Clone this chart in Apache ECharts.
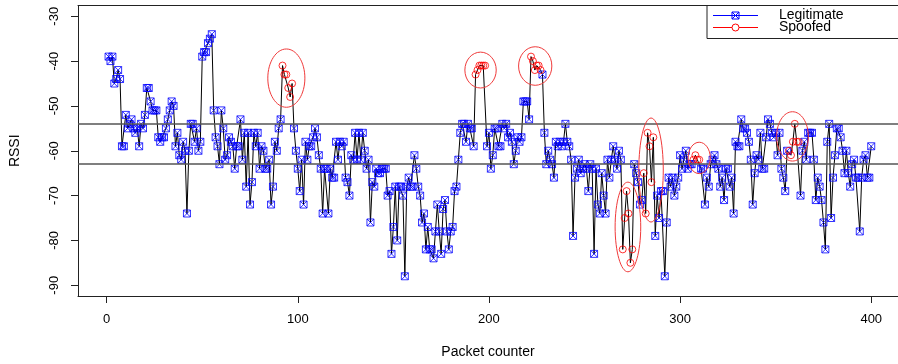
<!DOCTYPE html>
<html>
<head>
<meta charset="utf-8">
<script src="https://cdn.jsdelivr.net/npm/echarts@6.0.0/dist/echarts.min.js"></script>
<style>
  html, body { margin: 0; padding: 0; background: #fff; }
  #chart { width: 898px; height: 364px; }
</style>
</head>
<body>
<div id="chart"></div>
<script>
// RSSI per packet, packet 1..400
const rssi = [
  -39, -40, -39, -45, -44, -42, -44, -59, -59, -52,
  -55, -54, -53, -55, -56, -55, -59, -54, -55, -52,
  -46, -46, -49, -51, -51, -51, -57, -58, -57, -57,
  -55, -53, -51, -49, -50, -59, -56, -61, -62, -58,
  -60, -74, -60, -54, -54, -58, -55, -60, -58, -39,
  -38, -38, -36, -35, -34, -51, -57, -59, -63, -51,
  -55, -62, -61, -57, -58, -59, -64, -59, -59, -53,
  -62, -56, -68, -56, -72, -67, -56, -59, -56, -64,
  -59, -60, -64, -64, -62, -72, -68, -58, -60, -55,
  -53, -41, -43, -43, -46, -48, -45, -55, -60, -64,
  -69, -62, -72, -58, -62, -59, -59, -57, -55, -57,
  -61, -64, -74, -64, -64, -74, -64, -66, -66, -58,
  -62, -58, -59, -58, -66, -67, -70, -61, -62, -56,
  -62, -56, -62, -56, -60, -64, -62, -76, -67, -68,
  -64, -65, -65, -64, -64, -64, -70, -69, -83, -77,
  -68, -80, -68, -68, -70, -88, -68, -66, -68, -68,
  -61, -64, -68, -70, -76, -74, -82, -77, -82, -82,
  -84, -78, -72, -78, -83, -73, -71, -78, -82, -78,
  -77, -69, -68, -62, -56, -54, -54, -58, -54, -55,
  -55, -59, -43, -42, -41, -41, -41, -41, -59, -56,
  -64, -61, -55, -55, -59, -59, -54, -55, -54, -57,
  -56, -58, -63, -60, -57, -58, -57, -49, -49, -49,
  -53, -39, -40, -42, -41, -41, -42, -43, -56, -63,
  -60, -62, -63, -66, -58, -59, -58, -59, -58, -54,
  -58, -59, -62, -79, -66, -64, -62, -65, -64, -63,
  -64, -69, -63, -64, -83, -64, -72, -74, -65, -70,
  -74, -62, -66, -62, -59, -62, -64, -60, -62, -82,
  -75, -69, -74, -85, -82, -63, -65, -67, -72, -71,
  -65, -74, -56, -59, -67, -57, -79, -70, -75, -69,
  -69, -88, -76, -66, -68, -66, -70, -68, -66, -61,
  -64, -62, -60, -64, -63, -63, -62, -61, -62, -62,
  -64, -64, -72, -66, -68, -63, -62, -61, -63, -64,
  -68, -66, -71, -64, -64, -68, -66, -74, -58, -59,
  -59, -53, -55, -55, -56, -58, -62, -72, -65, -61,
  -62, -56, -64, -64, -57, -53, -54, -56, -57, -56,
  -61, -56, -64, -66, -69, -60, -60, -61, -58, -54,
  -58, -58, -70, -60, -58, -62, -56, -56, -56, -62,
  -71, -66, -68, -71, -76, -82, -58, -54, -75, -66,
  -61, -55, -55, -57, -60, -65, -60, -65, -68, -63,
  -62, -66, -66, -78, -66, -62, -61, -66, -66, -59
];

// packets flagged as spoofed
const spoofedPackets = [
  92, 93, 94, 95, 96, 97,
  193, 194, 195, 196, 197, 198,
  222, 223, 224, 225, 226, 227,
  270, 271, 272, 273, 274, 275,
  281, 282, 283, 284, 285, 286,
  307, 308, 309, 310,
  357, 358, 359, 360, 361, 362
];

// threshold lines
const thresholds = [-54, -63];

// highlight ellipses: [packet, rssi, half width (packets), half height (dB)]
const ellipses = [
  [94, -43.8, 9.7, 6.5],
  [195.6, -42, 8.2, 4],
  [224.2, -41.1, 8.7, 4.3],
  [272.7, -77, 6.7, 10],
  [284.8, -64.3, 6.4, 11.6],
  [310, -61.6, 5.8, 3.5],
  [358.8, -56.8, 8.3, 5.5]
];

const xTicks = [0, 100, 200, 300, 400];
const yTicks = [-90, -80, -70, -60, -50, -40, -30];

const allPoints = rssi.map((v, i) => [i + 1, v]);
const spoofSet = new Set(spoofedPackets);
const legitPoints = allPoints.filter(p => !spoofSet.has(p[0]));
const spoofPoints = allPoints.filter(p => spoofSet.has(p[0]));

const BLUE = '#0000ff';
const RED = '#ff0000';
const FONT = '"Liberation Sans", Arial, sans-serif';
const boxSymbol = 'path://M0 0H10V10H0Z M0 0L10 10 M10 0L0 10';

const chart = echarts.init(document.getElementById('chart'), null, { renderer: 'canvas' });

// legend drawn R style
const lgX = 707, lgY = 5.5;
const legendGraphic = [
  {
    type: 'rect',
    shape: { x: lgX, y: lgY, width: 220, height: 33 },
    style: { fill: '#fff', stroke: '#222', lineWidth: 1 },
    z: 100
  },
  {
    type: 'line',
    shape: { x1: 713, y1: 15.5, x2: 758, y2: 15.5 },
    style: { stroke: BLUE, lineWidth: 1 },
    z: 101
  },
  {
    type: 'rect',
    shape: { x: 732, y: 12, width: 7, height: 7 },
    style: { fill: 'none', stroke: BLUE, lineWidth: 1 },
    z: 102
  },
  {
    type: 'line',
    shape: { x1: 732, y1: 12, x2: 739, y2: 19 },
    style: { stroke: BLUE, lineWidth: 1 },
    z: 102
  },
  {
    type: 'line',
    shape: { x1: 739, y1: 12, x2: 732, y2: 19 },
    style: { stroke: BLUE, lineWidth: 1 },
    z: 102
  },
  {
    type: 'line',
    shape: { x1: 713, y1: 27.5, x2: 758, y2: 27.5 },
    style: { stroke: RED, lineWidth: 1 },
    z: 101
  },
  {
    type: 'circle',
    shape: { cx: 735.5, cy: 27.5, r: 3.5 },
    style: { fill: '#fff', stroke: RED, lineWidth: 1 },
    z: 102
  },
  {
    type: 'text',
    x: 779, y: 15.5,
    style: { text: 'Legitimate', font: '14px ' + FONT, fill: '#000', verticalAlign: 'middle' },
    z: 102
  },
  {
    type: 'text',
    x: 779, y: 27.5,
    style: { text: 'Spoofed', font: '14px ' + FONT, fill: '#000', verticalAlign: 'middle' },
    z: 102
  }
];

chart.setOption({
  animation: false,
  backgroundColor: '#fff',
  textStyle: { fontFamily: FONT },
  grid: { left: 72, right: 0, top: 5.5, bottom: 67 },
  xAxis: [
    {
      type: 'value',
      min: -15,
      max: 414,
      name: 'Packet counter',
      nameLocation: 'middle',
      nameGap: 49,
      nameTextStyle: { fontSize: 14, color: '#000', fontFamily: FONT },
      axisLine: { show: true, onZero: false, lineStyle: { color: '#222', width: 1 } },
      axisTick: { show: true, length: 7, lineStyle: { color: '#222' }, customValues: xTicks },
      axisLabel: { fontSize: 13, color: '#000', margin: 17, customValues: xTicks },
      splitLine: { show: false }
    },
    {
      type: 'value',
      position: 'top',
      min: -15,
      max: 414,
      axisLine: { show: true, onZero: false, lineStyle: { color: '#222', width: 1 } },
      axisTick: { show: false },
      axisLabel: { show: false },
      splitLine: { show: false }
    }
  ],
  yAxis: {
    type: 'value',
    min: -92.4,
    max: -27.6,
    name: 'RSSI',
    nameLocation: 'middle',
    nameRotate: 90,
    nameGap: 56,
    nameTextStyle: { fontSize: 14, color: '#000', fontFamily: FONT },
    axisLine: { show: true, onZero: false, lineStyle: { color: '#222', width: 1 } },
    axisTick: { show: true, length: 7, lineStyle: { color: '#222' }, customValues: yTicks },
    axisLabel: { fontSize: 13, color: '#000', rotate: 90, margin: 17, customValues: yTicks },
    splitLine: { show: false }
  },
  series: [
    {
      name: 'trace',
      type: 'line',
      data: allPoints,
      showSymbol: false,
      lineStyle: { color: '#000', width: 1 },
      z: 2,
      markLine: {
        silent: true,
        symbol: ['none', 'none'],
        label: { show: false },
        lineStyle: { color: '#555', width: 1.5, type: 'solid' },
        data: thresholds.map(v => ({ yAxis: v }))
      }
    },
    {
      name: 'Legitimate',
      type: 'scatter',
      data: legitPoints,
      symbol: boxSymbol,
      symbolSize: 7,
      itemStyle: { color: 'rgba(0,0,0,0)', borderColor: BLUE, borderWidth: 1 },
      z: 3
    },
    {
      name: 'Spoofed',
      type: 'scatter',
      data: spoofPoints,
      symbol: 'circle',
      symbolSize: 7,
      itemStyle: { color: 'rgba(0,0,0,0)', borderColor: RED, borderWidth: 1 },
      z: 4
    },
    {
      name: 'ellipses',
      type: 'custom',
      data: ellipses,
      encode: { x: 0, y: 1 },
      silent: true,
      z: 5,
      renderItem: function (params, api) {
        const c = api.coord([api.value(0), api.value(1)]);
        const s = api.size([api.value(2), api.value(3)]);
        return {
          type: 'ellipse',
          shape: { cx: c[0], cy: c[1], rx: s[0], ry: s[1] },
          style: { fill: 'none', stroke: '#f03a3a', lineWidth: 1 }
        };
      }
    }
  ],
  graphic: legendGraphic
});
</script>
</body>
</html>
